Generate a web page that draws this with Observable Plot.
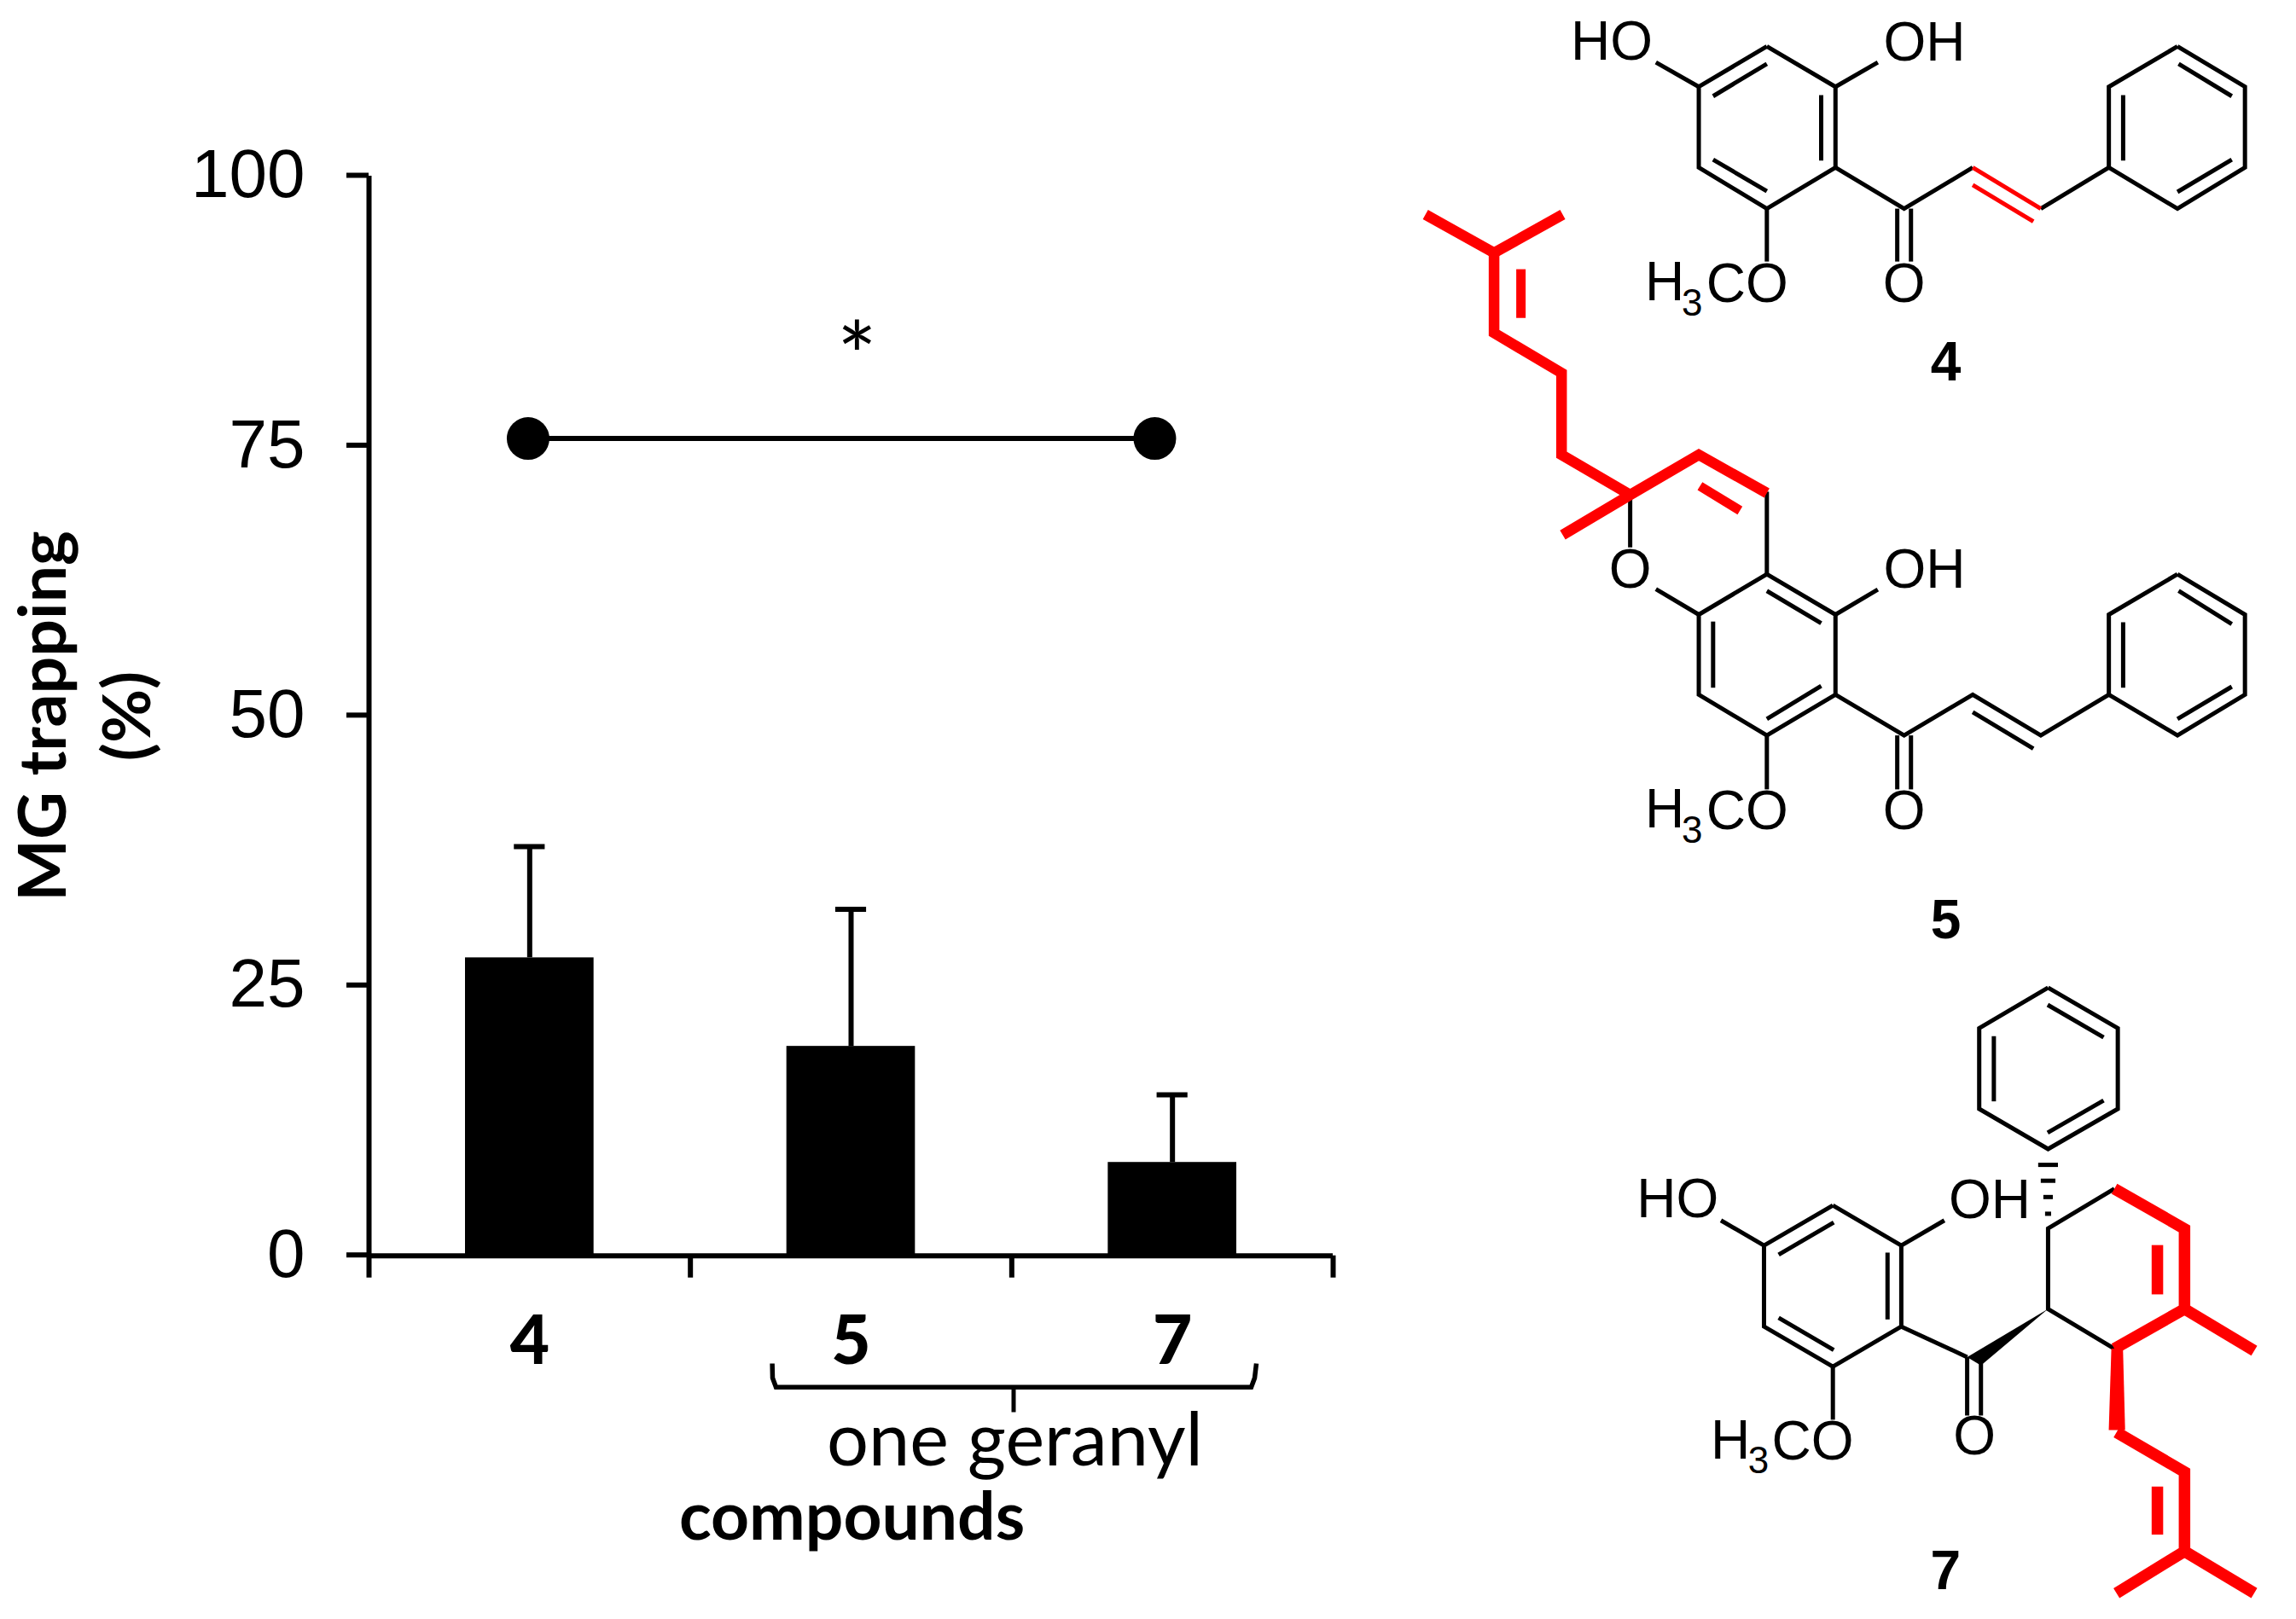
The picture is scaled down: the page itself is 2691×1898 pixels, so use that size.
<!DOCTYPE html>
<html><head><meta charset="utf-8">
<style>html,body{margin:0;padding:0;background:#fff}svg{display:block;max-width:none!important}</style>
<script src="https://cdn.jsdelivr.net/npm/d3@7"></script>
<script src="https://cdn.jsdelivr.net/npm/@observablehq/plot@0.6"></script>
</head><body><div id="c"></div>
<script>
// ---- chart values ----
const categories = ["4","5","7"];
const means = [27.6,19.4,8.65];
const upper = [37.9,32.1,14.9];
const yTicks = [0,25,50,75,100];
const sigX = [0.495,2.445];
const sigY = 75.7;

// ---- structure drawing, in three local read-off frames ----
const A = {x:v=>1640+v*1051/1568, y:v=>v*640/1568};
const B = {x:v=>1640+v*1051/1568, y:v=>480+v*640/1568};
const C = {x:v=>1900+v*791/1568, y:v=>1130+v*768/1568};

const black4 = [
 [[642,132],[762,248],[762,480],[642,598],[523,480],[523,248],[642,132]],
 [[548,275],[642,182]],[[737,272],[737,460]],[[548,457],[642,548]],
 [[762,248],[836,178]],[[523,248],[448,178]],[[642,598],[642,750]],
 [[870,598],[870,750]],[[894,598],[894,750]],
 [[762,480],[882,598],[1002,480]],[[1121,598],[1240,480]],
 [[1360,132],[1478,248],[1478,480],[1360,598],[1240,480],[1240,248],[1360,132]],
 [[1362,182],[1455,275]],[[1265,272],[1265,460]],[[1360,550],[1455,457]]
];
const redThin4 = [[[1002,480],[1121,598]],[[1002,530],[1108,635]]];
const redHeavy5 = [
 [[45,615],[165,725],[285,615]],
 [[165,725],[165,955],[283,1070],[283,1305],[403,1420]],
 [[285,1535],[403,1420],[523,1305],[642,1415]]
];
const redInner5 = [[[212,772],[212,912]],[[525,1395],[595,1465]]];
const black5 = [
 [[642,472],[762,588],[762,818],[642,935],[523,818],[523,588],[642,472]],
 [[403,250],[403,395]],[[448,515],[523,588]],[[642,235],[642,472]],
 [[762,588],[836,516]],
 [[642,520],[737,613]],[[548,608],[548,798]],[[642,888],[737,793]],
 [[762,818],[882,935],[1002,818],[1121,935],[1240,818]],[[1002,868],[1108,973]],
 [[870,935],[870,1090]],[[894,935],[894,1090]],[[642,935],[642,1090]],
 [[1360,472],[1478,588],[1478,818],[1360,935],[1240,818],[1240,588],[1360,472]],
 [[1362,520],[1455,615]],[[1265,610],[1265,798]],[[1360,888],[1455,795]]
];
const black7 = [
 [[991,56],[1153,153],[1153,346],[991,442],[831,346],[831,153],[991,56]],
 [[990,97],[1120,175]],[[865,172],[865,328]],[[990,403],[1120,326]],
 [[1145,537],[991,632],[991,825],[1145,920]],
 [[491,577],[650,673],[650,867],[491,963],[331,867],[331,673],[491,577]],
 [[365,695],[493,618]],[[618,690],[618,850]],[[365,846],[493,923]],
 [[331,673],[231,613]],[[650,673],[750,613]],
 [[650,867],[803,940]],[[803,940],[803,1080]],[[835,955],[835,1080]],
 [[491,963],[491,1090]]
];
const hash7 = [[[968,480],[1014,480]],[[974,518],[1008,518]],[[980,557],[1002,557]],[[984,597],[998,597]]];
const red7 = [
 [[1145,537],[1308,633],[1308,825],[1145,920]],
 [[1308,825],[1470,925]],
 [[1150,1120],[1308,1215],[1308,1405],[1150,1505]],
 [[1308,1405],[1470,1505]]
];
const redInner7 = [[[1245,672],[1245,790]],[[1245,1250],[1245,1365]]];
const wedge7 = [[991,825],[803,940],[835,960]];
const taper7 = [[1138,920],[1165,920],[1170,1115],[1132,1115]];
const bracket = [[904.6,1598],[905,1615],[909,1625.7],[1466,1625.7],[1470,1615],[1472,1598]];
const bracketStem = [[1187.5,1625],[1187.5,1655]];

const Arial = "Liberation Sans", Cal = "Lato";
const atomsStart = [
 ["HO",A,299,170],["OH",A,846,172],["H",A,429,862],["CO",A,536,865],
 ["OH",B,846,510],["H",B,429,1200],["CO",B,536,1203],
 ["HO",C,35,605],["OH",C,760,607],["H",C,207,1183],["CO",C,349,1185]
];
const atomsMiddle = [["O",A,882,865],["O",B,403,512],["O",B,882,1203],["O",C,820,1172]];
const subs = [["3",A,493,905],["3",B,493,1243],["3",C,294,1218]];
const ids = [["4",A,955,1092],["5",B,955,1518],["7",C,753,1495]];

const line = (list,T,stroke,strokeWidth) => Plot.line(
  list.flatMap((p,g)=>p.map(q=>({x:T?T.x(q[0]):q[0],y:T?T.y(q[1]):q[1],g}))),
  {x:"x",y:"y",z:"g",stroke,strokeWidth,strokeLinejoin:"miter",strokeLinecap:"butt",strokeMiterlimit:10});
const fillPoly = (pts,T,fill) => Plot.line(pts.map(q=>({x:T.x(q[0]),y:T.y(q[1])})),{x:"x",y:"y",fill,stroke:"none"});
const label = (rows,opts) => Plot.text(rows,{x:d=>d[1].x(d[2]),y:d=>d[1].y(d[3]),text:d=>d[0],lineAnchor:"bottom",...opts});

const overlay = () => Plot.plot({
  width:2691,height:1898,margin:0,
  x:{type:"identity",axis:null},y:{type:"identity",axis:null},
  marks:[
    line(black4,A,"#000",5), line(redThin4,A,"#f00",5),
    line(black5,B,"#000",5), line(black7,C,"#000",5), line(hash7,C,"#000",5),
    line(redHeavy5,A,"#f00",12.5), line(redInner5,A,"#f00",11),
    line(red7,C,"#f00",13.5), line(redInner7,C,"#f00",13.5),
    fillPoly(wedge7,C,"#000"), fillPoly(taper7,C,"#f00"),
    label(atomsStart,{textAnchor:"start",fontFamily:Arial,fontSize:64}),
    label(atomsMiddle,{textAnchor:"middle",fontFamily:Arial,fontSize:64}),
    label(subs,{textAnchor:"start",fontFamily:Arial,fontSize:44}),
    label(ids,{textAnchor:"middle",fontFamily:Arial,fontWeight:"bold",fontSize:64}),
    line([bracket],null,"#000",5.5), line([bracketStem],null,"#000",5),
    Plot.text(["one geranyl"],{x:()=>1189,y:()=>1717,textAnchor:"middle",lineAnchor:"bottom",fontFamily:Cal,fontSize:86.5}),
    Plot.text(["compounds"],{x:()=>998,y:()=>1804,textAnchor:"middle",lineAnchor:"bottom",fontFamily:Cal,fontWeight:"bold",fontSize:78.5}),
    Plot.text(["MG trapping"],{x:()=>76,y:()=>839,rotate:-90,textAnchor:"middle",lineAnchor:"bottom",fontFamily:Cal,fontWeight:"bold",fontSize:77}),
    Plot.text(["(%)"],{x:()=>175,y:()=>839,rotate:-90,textAnchor:"middle",lineAnchor:"bottom",fontFamily:Cal,fontWeight:"bold",fontSize:77})
  ]
});

const rows = categories.map((c,i)=>({c,i,m:means[i],u:upper[i]}));
const chart = Plot.plot({
  width:2691,height:1898,
  marginLeft:432,marginRight:1129,marginTop:206,marginBottom:426.3,
  x:{domain:[0,3],axis:null},
  y:{domain:[0,100],axis:null},
  style:{background:"#fff",overflow:"visible"},
  marks:[
    Plot.rectY(rows,{x1:d=>d.i+0.3,x2:d=>d.i+0.7,y:"m",fill:"#000"}),
    Plot.ruleX(rows,{x:d=>d.i+0.5,y1:"m",y2:"u",stroke:"#000",strokeWidth:6}),
    Plot.ruleY(rows,{y:"u",x1:d=>d.i+0.452,x2:d=>d.i+0.548,stroke:"#000",strokeWidth:6}),
    Plot.axisY({ticks:yTicks,tickSize:26,tickPadding:49,strokeWidth:6,stroke:"#000",fill:"#000",label:null,fontSize:80,fontFamily:Arial,dy:-1}),
    Plot.axisX({ticks:[0,1,2,3],tickSize:26,strokeWidth:6,stroke:"#000",fill:"none",label:null}),
    Plot.ruleX([0],{stroke:"#000",strokeWidth:6}),
    Plot.ruleY([0],{stroke:"#000",strokeWidth:6}),
    Plot.line(sigX.map(x=>({x,y:sigY})),{x:"x",y:"y",stroke:"#000",strokeWidth:6}),
    Plot.dot(sigX.map(x=>({x,y:sigY})),{x:"x",y:"y",r:25,fill:"#000",stroke:"none"}),
    Plot.text(["*"],{x:()=>1.518,y:()=>82.9,text:d=>d,lineAnchor:"middle",textAnchor:"middle",fontFamily:Cal,fontSize:110}),
    Plot.text(rows,{x:d=>d.i+0.5,y:()=>-10,text:"c",lineAnchor:"bottom",textAnchor:"middle",fontFamily:Cal,fontWeight:900,fontSize:80}),
    overlay
  ]
});
document.getElementById("c").append(chart);
</script></body></html>
